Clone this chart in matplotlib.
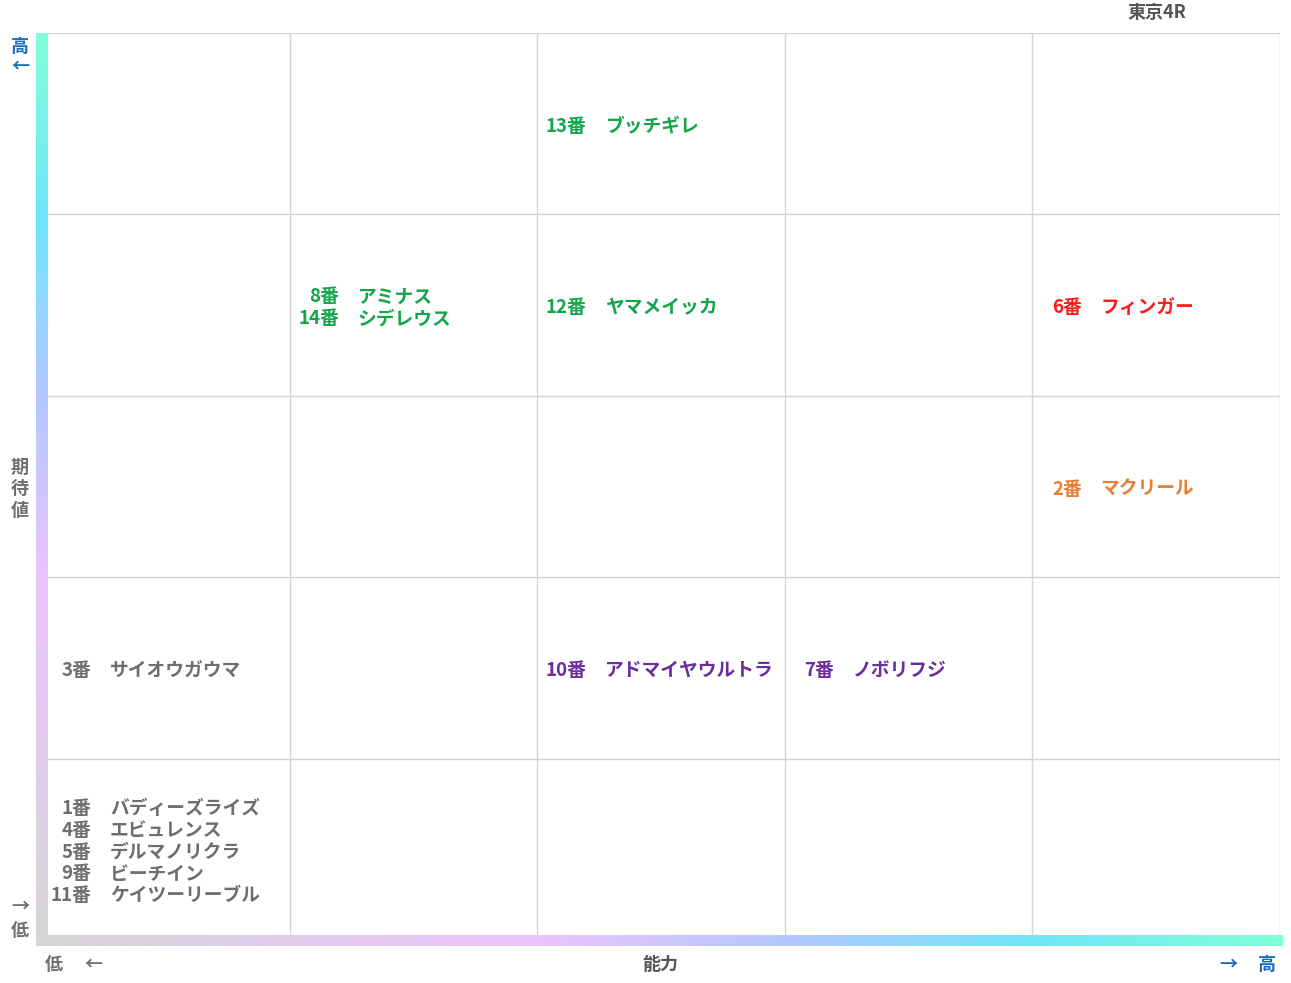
import matplotlib
matplotlib.use("Agg")
import matplotlib.pyplot as plt
import numpy as np
from matplotlib.colors import LinearSegmentedColormap

plt.rcParams['font.family'] = ['Noto Sans CJK JP', 'DejaVu Sans']

# data: (column 0-4 = 能力, row 0-4 = 期待値, number, name, colour group)
cols = [2, 1, 1, 2, 4, 4, 0, 2, 3, 0, 0, 0, 0, 0]
rows = [4, 3, 3, 3, 3, 2, 1, 1, 1, 0, 0, 0, 0, 0]
nums = ["13番", "8番", "14番", "12番", "6番", "2番", "3番", "10番", "7番", "1番", "4番", "5番", "9番", "11番"]
names = ["ブッチギレ", "アミナス", "シデレウス", "ヤマメイッカ", "フィンガー", "マクリール", "サイオウガウマ",
         "アドマイヤウルトラ", "ノボリフジ", "バディーズライズ", "エビュレンス", "デルマノリクラ", "ビーチイン", "ケイツーリーブル"]
groups = ["g", "g", "g", "g", "r", "o", "k", "p", "p", "k", "k", "k", "k", "k"]
palette = {"g": "#13a54a", "r": "#ff1a1a", "o": "#ea7d35", "p": "#6b2c9c", "k": "#6e6e6e"}

W, H = 1291, 983
fig = plt.figure(figsize=(W/100, H/100), dpi=100)
def fx(px): return px / W
def fy(py): return 1 - py / H

ax = fig.add_axes([fx(42), fy(940), fx(1280) - fx(42), fy(33) - fy(940)])
ax.set_xlim(0, 5); ax.set_ylim(0, 5)
for v in range(1, 6):
    ax.axvline(v, color="#d4d4d4", lw=1)
    ax.axhline(v, color="#d4d4d4", lw=1)
ax.set_xticks([]); ax.set_yticks([])
for s in ax.spines.values():
    s.set_visible(False)

from collections import defaultdict
cells = defaultdict(list)
for c, r, n, nm, g in zip(cols, rows, nums, names, groups):
    cells[(c, r)].append((n, nm, g))
lh = 0.121
for (c, r), items in cells.items():
    k = len(items)
    for i, (n, nm, g) in enumerate(items):
        y = r + 0.485 + (k - 1) / 2 * lh - i * lh
        ax.text(c + 0.2, y, n, ha="right", va="center", color=palette[g], fontsize=13.5, fontweight="bold")
        ax.text(c + 0.275, y, nm, ha="left", va="center", color=palette[g], fontsize=13.5, fontweight="bold")

stops = [(0, "#d6d6d6"), (0.4, "#ecc4ff"), (0.6, "#b4c8ff"), (0.8, "#70e6fa"), (1, "#80ffd8")]
cmap = LinearSegmentedColormap.from_list("g", stops)
grad = np.linspace(0, 1, 256)
vax = fig.add_axes([fx(36), fy(943), fx(48) - fx(36), fy(33) - fy(943)])
vax.imshow(grad[:, None], aspect="auto", cmap=cmap, origin="lower")
vax.axis("off")
hax = fig.add_axes([fx(36), fy(946), fx(1283) - fx(36), fy(935) - fy(946)])
hax.imshow(grad[None, :], aspect="auto", cmap=cmap, origin="lower")
hax.axis("off")

blue = "#1a6cc0"; gray = "#707070"
def t(px, py, s, c, **kw):
    fig.text(fx(px), fy(py), s, color=c, ha="center", va="center", fontsize=13, fontweight="bold", **kw)
t(20, 46, "高", blue); t(20, 66, "←", blue)
t(20, 906, "→", gray); t(20, 931, "低", gray)
t(54, 964, "低", gray); t(93, 964, "←", gray)
t(1228, 964, "→", blue); t(1267, 964, "高", blue)
t(660, 964, "能力", "#555555")
t(20, 467, "期", gray); t(20, 488, "待", gray); t(20, 510, "値", gray)
t(1157, 13, "東京4R", "#555555")

fig.savefig("out.png", dpi=100)
